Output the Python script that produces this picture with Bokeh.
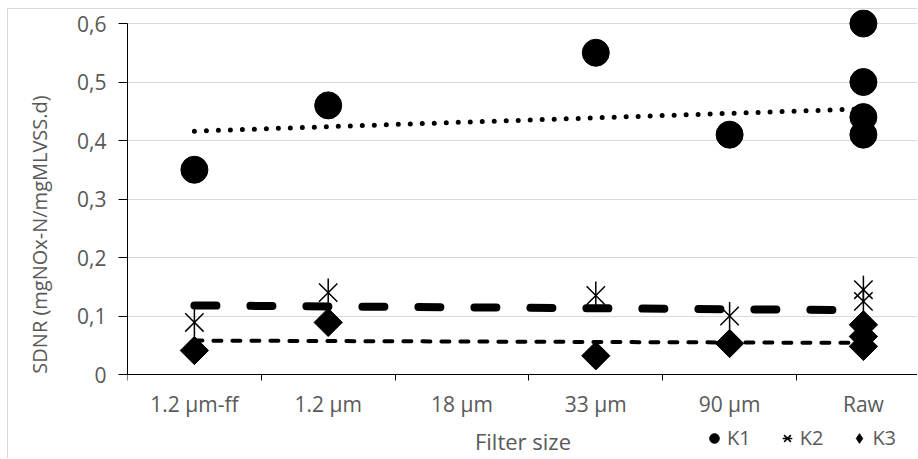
import numpy as np
from bokeh.plotting import figure
from bokeh.models import Range1d, FixedTicker, Legend, LegendItem
from bokeh.embed import file_html
from bokeh.resources import INLINE

# ---------------- data ----------------
categories = ["1.2 µm-ff", "1.2 µm", "18 µm", "33 µm", "90 µm", "Raw"]
y_ticks = [0, 0.1, 0.2, 0.3, 0.4, 0.5, 0.6]
y_tick_labels = ["0", "0,1", "0,2", "0,3", "0,4", "0,5", "0,6"]

k1_cat = ["1.2 µm-ff", "1.2 µm", "33 µm", "90 µm", "Raw", "Raw", "Raw", "Raw"]
k1_val = [0.35, 0.46, 0.55, 0.41, 0.60, 0.50, 0.44, 0.41]
k2_cat = ["1.2 µm-ff", "1.2 µm", "33 µm", "90 µm", "Raw", "Raw"]
k2_val = [0.089, 0.14, 0.135, 0.10, 0.145, 0.125]
k3_cat = ["1.2 µm-ff", "1.2 µm", "33 µm", "90 µm", "Raw", "Raw", "Raw"]
k3_val = [0.041, 0.089, 0.032, 0.053, 0.085, 0.065, 0.048]

trend_cat = ["1.2 µm-ff", "Raw"]
k1_trend = [0.416, 0.454]
k2_trend = [0.118, 0.110]
k3_trend = [0.058, 0.054]

series_names = ["K1", "K2", "K3"]

# ---------------- helpers ----------------
def xpos(cats):
    return [categories.index(c) + 0.5 for c in cats]

GRAY = "#595959"
FONT = "Open Sans"

# layout (pixels)
frame_w = 791.0          # frame from page x=127 to 918
cat_px = 133.8           # width of one category
px_per_unit = 351.0 / 0.6
above_zero = 365.0       # frame top (page y=9) to y=0 (page y=374)
below_zero = 85.0        # y=0 to the bottom of the page

x_end = frame_w / cat_px
y_end = above_zero / px_per_unit
y_start = -below_zero / px_per_unit

p = figure(width=910, height=450,
           x_range=Range1d(0, x_end), y_range=Range1d(y_start, y_end),
           output_backend="svg", toolbar_location=None,
           min_border_left=119, min_border_right=0,
           min_border_top=0, min_border_bottom=0,
           margin=(8, 0, 0, 7),
           styles={"border-top": "1px solid #d9d9d9",
                   "border-left": "1px solid #d9d9d9"})
p.outline_line_color = None
p.background_fill_color = "white"
p.border_fill_color = "white"

# grid
p.xgrid.visible = False
p.ygrid.ticker = FixedTicker(ticks=y_ticks)
p.ygrid.grid_line_color = "#d9d9d9"
p.ygrid.grid_line_width = 1

# x axis, drawn at y = 0
xa = p.xaxis[0]
xa.fixed_location = 0
xa.ticker = FixedTicker(ticks=[i + 0.5 for i in range(len(categories))],
                        minor_ticks=list(range(len(categories) + 1)))
xa.major_label_overrides = {i + 0.5: c for i, c in enumerate(categories)}
xa.major_tick_line_color = None
xa.major_tick_out = 0
xa.major_tick_in = 0
xa.minor_tick_line_color = "black"
xa.minor_tick_out = 6
xa.minor_tick_in = 0
xa.axis_line_color = "black"
xa.major_label_text_font = FONT
xa.major_label_text_font_size = "21px"
xa.major_label_text_color = GRAY
xa.major_label_standoff = 9
xa.axis_label = "Filter size"
xa.axis_label_text_font = FONT
xa.axis_label_text_font_size = "22px"
xa.axis_label_text_font_style = "normal"
xa.axis_label_text_color = GRAY
xa.axis_label_standoff = 5

# y axis
ya = p.yaxis[0]
ya.ticker = FixedTicker(ticks=y_ticks, minor_ticks=[])
ya.major_label_overrides = {t: l for t, l in zip(y_ticks, y_tick_labels)}
ya.bounds = (0, 0.6)
ya.axis_line_color = "black"
ya.major_tick_line_color = "black"
ya.major_tick_out = 9
ya.major_tick_in = 0
ya.minor_tick_line_color = None
ya.major_label_text_font = FONT
ya.major_label_text_font_size = "21px"
ya.major_label_text_color = GRAY
ya.major_label_standoff = 12
ya.axis_label = "SDNR (mgNOx-N/mgMLVSS.d)"
ya.axis_label_text_font = FONT
ya.axis_label_text_font_size = "20px"
ya.axis_label_text_font_style = "normal"
ya.axis_label_text_color = GRAY
ya.axis_label_standoff = 21

# trend lines
p.line(xpos(trend_cat), k1_trend, line_color="black", line_width=5,
       line_dash="0 12", line_cap="round")
p.line(xpos(trend_cat), k2_trend, line_color="black", line_width=8,
       line_dash="22 34", line_cap="round")
p.line(xpos(trend_cat), k3_trend, line_color="black", line_width=4,
       line_dash="8 11", line_cap="round")

# markers
r1 = p.scatter(xpos(k1_cat), k1_val, marker="circle", size=27,
               fill_color="black", line_color="black")
r2a = p.scatter(xpos(k2_cat), k2_val, marker="x", size=26,
                line_color="black", line_width=1.5)
r2b = p.scatter(xpos(k2_cat), k2_val, marker="dash", size=28, angle=np.pi / 2,
                line_color="black", line_width=1.5)
# diamond glyph (hidden under the square diamonds) used for the legend symbol
r3_leg = p.scatter(xpos(k3_cat), k3_val, marker="diamond", size=20,
                   fill_color="black", line_color="black")
r3 = p.scatter(xpos(k3_cat), k3_val, marker="square", size=20, angle=np.pi / 4,
               fill_color="black", line_color="black")

# legend at the bottom right, beside the axis title
legend = Legend(items=[LegendItem(label=series_names[0], renderers=[r1]),
                       LegendItem(label=series_names[1], renderers=[r2a, r2b]),
                       LegendItem(label=series_names[2], renderers=[r3_leg])],
                location=(575, 8), orientation="horizontal",
                glyph_width=24, glyph_height=24, label_standoff=1,
                spacing=24, padding=0, margin=0,
                border_line_color=None, background_fill_alpha=0,
                label_text_font=FONT, label_text_font_size="20px",
                label_text_color=GRAY)
p.add_layout(legend)

open("out.html", "w").write(file_html(p, INLINE))
